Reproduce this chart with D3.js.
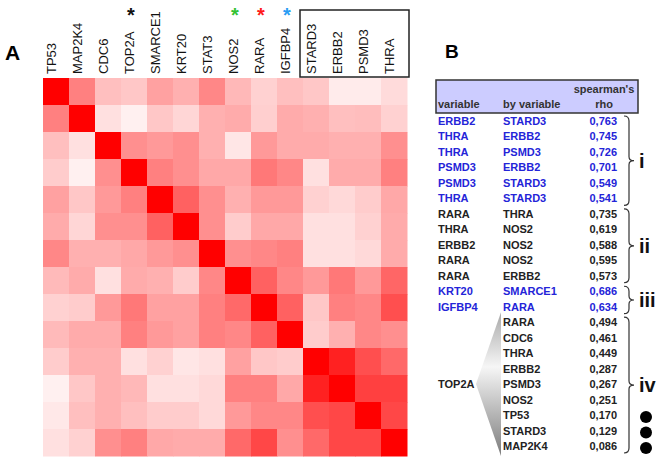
<!DOCTYPE html>
<html><head><meta charset="utf-8">
<script src="https://cdn.jsdelivr.net/npm/d3@7"></script>
<style>body{margin:0;background:#fff}svg{display:block}</style>
</head><body><svg id="c" width="664" height="463"></svg>
<script>
const genes = ["TP53","MAP2K4","CDC6","TOP2A","SMARCE1","KRT20","STAT3","NOS2","RARA","IGFBP4","STARD3","ERBB2","PSMD3","THRA"];
const corr = [
 [1,0.5,0.25,0.22,0.37,0.31,0.47,0.28,0.18,0.25,0.22,0.08,0.08,0.14],
 [0.5,1,0.12,0.06,0.22,0.16,0.31,0.33,0.19,0.33,0.31,0.25,0.26,0.18],
 [0.25,0.12,1,0.44,0.40,0.44,0.31,0.10,0.40,0.33,0.33,0.31,0.31,0.44],
 [0.2,0.06,0.44,1,0.5,0.44,0.34,0.34,0.53,0.47,0.12,0.33,0.33,0.5],
 [0.37,0.22,0.40,0.5,1,0.62,0.44,0.31,0.40,0.40,0.18,0.15,0.2,0.34],
 [0.33,0.16,0.44,0.44,0.62,1,0.44,0.2,0.34,0.34,0.12,0.12,0.18,0.33],
 [0.47,0.31,0.31,0.34,0.40,0.44,1,0.44,0.47,0.5,0.12,0.12,0.15,0.33],
 [0.27,0.33,0.12,0.33,0.31,0.2,0.47,1,0.62,0.47,0.40,0.53,0.40,0.6],
 [0.18,0.2,0.40,0.53,0.37,0.37,0.5,0.59,1,0.62,0.22,0.5,0.47,0.69],
 [0.27,0.33,0.33,0.5,0.40,0.37,0.5,0.47,0.62,1,0.2,0.31,0.47,0.44],
 [0.2,0.31,0.31,0.12,0.18,0.10,0.12,0.37,0.22,0.2,1,0.87,0.69,0.59],
 [0.06,0.22,0.31,0.28,0.12,0.12,0.15,0.5,0.5,0.34,0.87,1,0.75,0.75],
 [0.09,0.25,0.31,0.25,0.2,0.2,0.15,0.40,0.47,0.47,0.69,0.72,1,0.72],
 [0.12,0.18,0.44,0.5,0.34,0.33,0.33,0.59,0.72,0.44,0.59,0.72,0.72,1]
];
const starGenes = ["TOP2A","NOS2","RARA","IGFBP4"];
const starColors = ["#111","#33c233","#ff1a1a","#2a9df4"];
const boxedGenes = ["STARD3","ERBB2","PSMD3","THRA"];

const tableVar = ["ERBB2","THRA","THRA","PSMD3","PSMD3","THRA","RARA","THRA","ERBB2","RARA","RARA","KRT20","IGFBP4","","","","","","","","",""];
const tableBy = ["STARD3","ERBB2","PSMD3","ERBB2","STARD3","STARD3","THRA","NOS2","NOS2","NOS2","ERBB2","SMARCE1","RARA","RARA","CDC6","THRA","ERBB2","PSMD3","NOS2","TP53","STARD3","MAP2K4"];
const tableRho = ["0,763","0,745","0,726","0,701","0,549","0,541","0,735","0,619","0,588","0,595","0,573","0,686","0,634","0,494","0,461","0,449","0,287","0,267","0,251","0,170","0,129","0,086"];
const groupLabels = ["i","ii","iii","iv"];
const groupStart = [0,6,11,13];
const groupEnd = [5,10,12,21];
const groupBlue = [true,false,true,false];
const dotRows = [19,20,21];

const svg = d3.select("#c");
const font = "'Liberation Sans', Arial, sans-serif";

// Panel A
const x = d3.scaleBand().domain(genes).range([43,407]);
const y = d3.scaleBand().domain(genes).range([78,456]);
const color = d3.scaleLinear().domain([0,1]).range(["#ffffff","#ff0000"]);

svg.append("text").attr("x",5).attr("y",60).attr("font-family",font).attr("font-weight","bold").attr("font-size",21).text("A");

const cells = [];
corr.forEach((r,i)=>r.forEach((v,j)=>cells.push({r:genes[i],c:genes[j],v})));
svg.append("g").selectAll("rect").data(cells).join("rect")
  .attr("x",d=>x(d.c)).attr("y",d=>y(d.r))
  .attr("width",x.bandwidth()+0.5).attr("height",y.bandwidth()+0.5)
  .attr("fill",d=>color(d.v));

svg.append("g").selectAll("text").data(genes).join("text")
  .attr("transform",d=>`translate(${x(d)+x.bandwidth()/2},74) rotate(-90)`)
  .attr("font-family",font).attr("font-size",13).attr("fill","#111")
  .text(d=>d);

svg.append("g").selectAll("text").data(starGenes).join("text")
  .attr("x",d=>x(d)+x.bandwidth()/2-3).attr("y",22)
  .attr("text-anchor","middle").attr("font-family",font).attr("font-weight","bold")
  .attr("font-size",20).attr("fill",(d,i)=>starColors[i]).text("*");

svg.append("rect").attr("x",x(boxedGenes[0])-3).attr("y",10)
  .attr("width",x(boxedGenes[3])+x.bandwidth()-x(boxedGenes[0])+5).attr("height",67)
  .attr("fill","none").attr("stroke","#222").attr("stroke-width",1.5);

// Panel B
svg.append("text").attr("x",445).attr("y",58).attr("font-family",font).attr("font-weight","bold").attr("font-size",19).text("B");

svg.append("rect").attr("x",436).attr("y",80).attr("width",202).attr("height",33)
  .attr("fill","#ccccff").attr("stroke","#333").attr("stroke-width",1.5);
const hdr = svg.append("g").attr("font-family",font).attr("font-weight","bold").attr("font-size",11).attr("fill","#333");
hdr.append("text").attr("x",438).attr("y",108).text("variable");
hdr.append("text").attr("x",503).attr("y",108).text("by variable");
hdr.append("text").attr("x",604).attr("y",93).attr("text-anchor","middle").text("spearman's");
hdr.append("text").attr("x",604).attr("y",108).attr("text-anchor","middle").text("rho");

const rowY = d3.scaleLinear().domain([0,21]).range([125,450]);
const rowIdx = d3.range(tableBy.length);
const blueOf = i => { const g = groupStart.findIndex((s,k)=>i>=s && i<=groupEnd[k]); return groupBlue[g]; };
const tg = svg.append("g").attr("font-family",font).attr("font-weight","bold").attr("font-size",11);
tg.selectAll("text.v").data(rowIdx).join("text").attr("class","v")
  .attr("x",438).attr("y",i=>rowY(i)).attr("fill",i=>blueOf(i)?"#2424d8":"#222").text(i=>tableVar[i]);
tg.selectAll("text.b").data(rowIdx).join("text").attr("class","b")
  .attr("x",503).attr("y",i=>rowY(i)).attr("fill",i=>blueOf(i)?"#2424d8":"#222").text(i=>tableBy[i]);
tg.selectAll("text.r").data(rowIdx).join("text").attr("class","r")
  .attr("x",617).attr("y",i=>rowY(i)).attr("text-anchor","end").attr("fill",i=>blueOf(i)?"#2424d8":"#222").text(i=>tableRho[i]);

// TOP2A cone
const defs = svg.append("defs");
const grad = defs.append("linearGradient").attr("id","cone").attr("x1",0).attr("y1",0).attr("x2",0).attr("y2",1);
grad.append("stop").attr("offset","0%").attr("stop-color","#a8a8a8");
grad.append("stop").attr("offset","38%").attr("stop-color","#f6f6f6");
grad.append("stop").attr("offset","100%").attr("stop-color","#7c7c7c");
const midY = rowY(17)-4;
svg.append("path").attr("d",`M476,${midY} L501,${rowY(13)-14} L501,${rowY(21)+6} Z`).attr("fill","url(#cone)");
tg.append("text").attr("x",438).attr("y",rowY(17)).attr("fill","#222").text("TOP2A");

// braces
function brace(x0,y1,y2){
  const ym=(y1+y2)/2, w=5;
  return `M${x0},${y1} Q${x0+w},${y1} ${x0+w},${y1+5} L${x0+w},${ym-4} Q${x0+w},${ym} ${x0+2*w},${ym} Q${x0+w},${ym} ${x0+w},${ym+4} L${x0+w},${y2-5} Q${x0+w},${y2} ${x0},${y2}`;
}
const bg = svg.append("g");
groupLabels.forEach((lab,k)=>{
  const y1 = rowY(groupStart[k])-9, y2 = rowY(groupEnd[k])+3;
  bg.append("path").attr("d",brace(624,y1,y2)).attr("fill","none").attr("stroke","#333").attr("stroke-width",1.2);
  bg.append("text").attr("x",639).attr("y",(y1+y2)/2+7).attr("font-family",font).attr("font-weight","bold")
    .attr("font-size",20).attr("fill","#111").text(lab);
});
svg.append("g").selectAll("circle").data(dotRows).join("circle")
  .attr("cx",646).attr("cy",i=>rowY(i)-2).attr("r",6).attr("fill","#000");
</script></body></html>
